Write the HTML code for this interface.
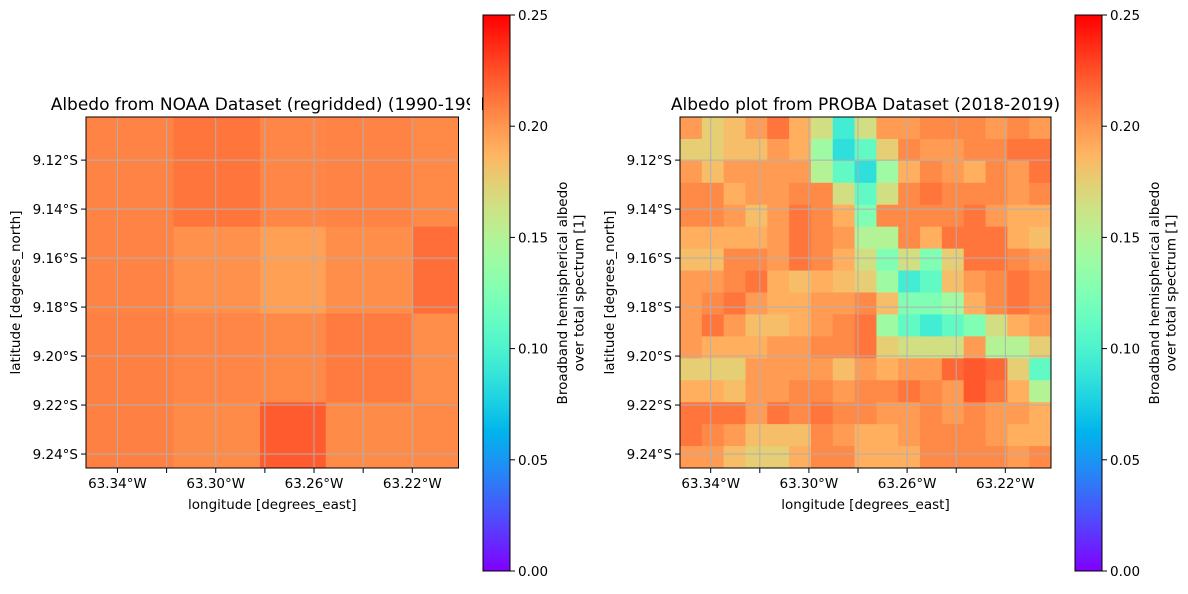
<!DOCTYPE html>
<html><head><meta charset="utf-8"><style>
html,body{margin:0;padding:0;background:#fff;}
svg text{font-family:"DejaVu Sans","Liberation Sans",sans-serif;fill:#000;}
</style></head><body>
<svg id="chart" width="1188" height="589" viewBox="0 0 1188 589" xmlns="http://www.w3.org/2000/svg">
<defs>
<linearGradient id="cbgrad" x1="0" y1="1" x2="0" y2="0"></linearGradient>
</defs>
</svg>
<script>
// ---------- data ----------
const colorTicks = [0, 0.05, 0.10, 0.15, 0.20, 0.25];
const colorTickLabels = ["0.00","0.05","0.10","0.15","0.20","0.25"];
const lonTicks = [-63.34,-63.32,-63.30,-63.28,-63.26,-63.24,-63.22];
const lonTickLabels = ["63.34°W","","63.30°W","","63.26°W","","63.22°W"];
const latTicks = [-9.12,-9.14,-9.16,-9.18,-9.20,-9.22,-9.24];
const latTickLabels = ["9.12°S","9.14°S","9.16°S","9.18°S","9.20°S","9.22°S","9.24°S"];
// NOAA regridded cell edges (degrees)
const noaaLonEdges = [-63.3528,-63.3172,-63.2820,-63.2552,-63.2196,-63.2012];
const noaaLatEdges = [-9.1024,-9.1472,-9.1826,-9.2189,-9.2457];
const noaaValues = [
 [0.207,0.212,0.206,0.207,0.205],
 [0.207,0.202,0.196,0.203,0.215],
 [0.208,0.206,0.205,0.210,0.203],
 [0.208,0.204,0.221,0.204,0.205]
];
// PROBA grid
const probaLonEdgesRange = [-63.3525,-63.2014];
const probaLatEdgesRange = [-9.1024,-9.2457];
const A=0.222,B=0.212,C=0.205,D=0.198,E=0.19,F=0.183,G=0.175,H=0.165,I=0.15,J=0.14,K=0.125,L=0.11,M=0.095,N=0.085;
const probaValues = [
 [D,G,F,D,B,E,H,M,H,D,D,C,C,C,D,C,D],
 [G,G,F,F,D,E,J,N,L,G,C,D,D,C,C,B,B],
 [D,F,D,D,D,D,I,L,N,J,E,C,D,E,C,D,B],
 [C,C,E,D,D,C,C,H,L,H,C,B,C,C,C,D,C],
 [C,C,D,F,D,B,C,E,K,C,C,C,C,B,D,E,E],
 [E,E,E,E,D,B,C,D,I,I,C,E,B,B,B,E,F],
 [F,F,C,C,D,B,C,E,H,K,H,K,G,B,B,C,D],
 [D,D,C,B,E,F,E,F,G,J,M,L,F,D,C,B,C],
 [D,C,B,D,E,E,D,D,C,F,K,K,J,E,C,B,C],
 [D,B,D,F,F,E,D,C,B,J,L,M,L,K,H,E,D],
 [D,E,E,E,D,D,C,C,B,G,H,H,H,D,I,I,G],
 [G,G,G,D,D,D,D,F,D,E,D,D,0.217,A,0.217,G,L],
 [E,E,F,D,D,C,C,D,C,C,B,C,D,A,B,E,I],
 [B,B,B,D,B,C,B,C,C,D,D,C,D,C,D,D,E],
 [B,C,D,F,F,F,C,D,E,E,D,C,C,C,D,E,E],
 [D,D,F,G,G,E,C,C,E,E,E,C,C,C,C,D,C]
];
// ---------- helpers ----------
const NS="http://www.w3.org/2000/svg";
const svg=document.getElementById('chart');
function mk(tag,attrs,parent){const e=document.createElementNS(NS,tag);for(const k in attrs)e.setAttribute(k,attrs[k]);(parent||svg).appendChild(e);return e;}
function rainbow(v){let x=Math.max(0,Math.min(1,v/0.25));
 const r=Math.min(1,Math.abs(2*x-0.5)),g=Math.sin(Math.PI*x),b=Math.cos(Math.PI*x/2);
 return `rgb(${Math.round(r*255)},${Math.round(g*255)},${Math.round(Math.max(0,b)*255)})`;}
const grad=document.getElementById('cbgrad');
for(let i=0;i<=20;i++){const s=document.createElementNS(NS,'stop');s.setAttribute('offset',i/20);s.setAttribute('stop-color',rainbow(0.25*i/20));grad.appendChild(s);}

function panel(px0,pw,py0,ph,lon0,lon1,lat0,lat1){
 const xs=l=>px0+(l-lon0)/(lon1-lon0)*pw;
 const ys=l=>py0+(l-lat0)/(lat1-lat0)*ph;
 return {xs,ys};
}
function drawAxes(px0,py0,pw,ph,sc,title,prefix){
 const g=mk('g',{});
 
 
 lonTicks.forEach((t,i)=>{const x=sc.xs(t);
  mk('line',{x1:x,x2:x,y1:py0,y2:py0+ph,stroke:'#b0b0b0','stroke-width':1},g);
  const tk=mk('line',{x1:x,x2:x,y1:py0+ph,y2:py0+ph+5,stroke:'#000','stroke-width':1});
  
  
  if(lonTickLabels[i]){const tx=mk('text',{x:x,y:py0+ph+20,'text-anchor':'middle','font-size':13.5});tx.textContent=lonTickLabels[i];
   
   }
 });
 latTicks.forEach((t,i)=>{const y=sc.ys(t);
  mk('line',{x1:px0,x2:px0+pw,y1:y,y2:y,stroke:'#b0b0b0','stroke-width':1},g);
  mk('line',{x1:px0-5,x2:px0,y1:y,y2:y,stroke:'#000','stroke-width':1});
  const tx=mk('text',{x:px0-8,y:y+5,'text-anchor':'end','font-size':13.5});tx.textContent=latTickLabels[i];
  
  
 });
 const fr=mk('rect',{x:px0,y:py0,width:pw,height:ph,fill:'none',stroke:'#000','stroke-width':1});
 
 
 const xl=mk('text',{x:px0+pw/2,y:py0+ph+41,'text-anchor':'middle','font-size':13.5});xl.textContent='longitude [degrees_east]';
 
 
 const yl=mk('text',{x:0,y:0,'text-anchor':'middle','font-size':13.5,transform:`translate(${px0-66},${py0+ph/2}) rotate(-90)`});yl.textContent='latitude [degrees_north]';
 
 
 const ti=mk('text',{x:px0+pw/2,y:py0-7,'text-anchor':'middle','font-size':17});ti.textContent=title;
 
 
}
function drawColorbar(x,prefix){
 const y0=15,y1=571,w=27;
 const cb=mk('rect',{x:x,y:y0,width:w,height:y1-y0,fill:'url(#cbgrad)',stroke:'#000','stroke-width':1});
 
 
 colorTicks.forEach((t,i)=>{const y=y1-(t/0.25)*(y1-y0);
  mk('line',{x1:x+w,x2:x+w+5,y1:y,y2:y,stroke:'#000'});
  const tx=mk('text',{x:x+w+8,y:y+5,'font-size':13.5});tx.textContent=colorTickLabels[i];
  
  
 });
 const lab=mk('text',{x:0,y:0,'text-anchor':'middle','font-size':13.5,transform:`translate(${x+84},293) rotate(-90)`});
 
 
 const t1=mk('tspan',{x:0,dy:0},lab);t1.textContent='Broadband hemispherical albedo';
 const t2=mk('tspan',{x:0,dy:16.5},lab);t2.textContent='over total spectrum [1]';
}
// ---------- left panel ----------
{
 const px0=86,py0=117,pw=372.5,ph=351;
 const sc=panel(px0,pw,py0,ph,-63.3528,-63.2012,-9.1024,-9.2457);
 const g=mk('g',{});
 
 
 noaaValues.forEach((row,r)=>row.forEach((v,c)=>{
  const x0=sc.xs(noaaLonEdges[c]),x1=sc.xs(noaaLonEdges[c+1]),y0=sc.ys(noaaLatEdges[r]),y1=sc.ys(noaaLatEdges[r+1]);
  const cell=mk('rect',{x:x0,y:y0,width:x1-x0+0.5,height:y1-y0+0.5,fill:rainbow(v)},g);
  
  
 }));
 drawAxes(px0,py0,pw,ph,sc,'Albedo from NOAA Dataset (regridded) (1990-1991)','noaa');
 mk('rect',{x:470,y:0,width:12,height:589,fill:'#fff'});
 drawColorbar(483,'noaa');
}
// ---------- right panel ----------
{
 const px0=680,py0=117,pw=371,ph=351;
 const lon0=probaLonEdgesRange[0],lon1=probaLonEdgesRange[1],lat0=probaLatEdgesRange[0],lat1=probaLatEdgesRange[1];
 const sc=panel(px0,pw,py0,ph,lon0,lon1,lat0,lat1);
 const nr=probaValues.length,nc=probaValues[0].length;
 const dlon=(lon1-lon0)/nc,dlat=(lat1-lat0)/nr;
 const g=mk('g',{});
 
 
 probaValues.forEach((row,r)=>row.forEach((v,c)=>{
  const x0=sc.xs(lon0+c*dlon),x1=sc.xs(lon0+(c+1)*dlon),y0=sc.ys(lat0+r*dlat),y1=sc.ys(lat0+(r+1)*dlat);
  const cell=mk('rect',{x:x0,y:y0,width:x1-x0+0.5,height:y1-y0+0.5,fill:rainbow(v)},g);
  
  
 }));
 drawAxes(px0,py0,pw,ph,sc,'Albedo plot from PROBA Dataset (2018-2019)','proba');
 drawColorbar(1075,'proba');
}
</script>
</body></html>
